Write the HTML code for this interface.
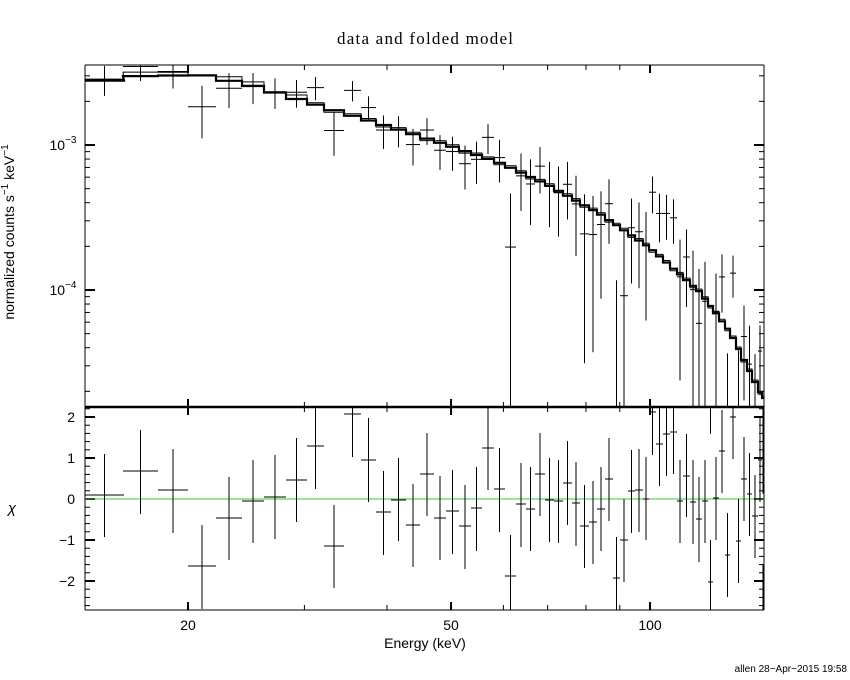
<!DOCTYPE html>
<html><head><meta charset="utf-8"><style>
html,body{margin:0;padding:0;background:#fff;}
svg{display:block;}
text{font-family:"Liberation Sans",sans-serif;fill:#000;}
</style></head><body>
<svg id="s" width="850" height="680" viewBox="0 0 850 680" xmlns="http://www.w3.org/2000/svg">
<text x="425" y="44" text-anchor="middle" font-size="17" textLength="176" style="font-family:'Liberation Serif',serif">data and folded model</text>
<text x="0" y="0" font-size="14" text-anchor="middle" transform="translate(14,232) rotate(-90)">normalized counts s<tspan dy="-6" font-size="10">−1</tspan><tspan dy="6"> keV</tspan><tspan dy="-6" font-size="10">−1</tspan></text>
<text x="12" y="513" font-size="15" text-anchor="middle" font-style="italic">χ</text>
<text x="425" y="648" font-size="14" text-anchor="middle">Energy (keV)</text>
<text x="188" y="630" font-size="14" text-anchor="middle">20</text>
<text x="451" y="630" font-size="14" text-anchor="middle">50</text>
<text x="650" y="630" font-size="14" text-anchor="middle">100</text>
<text x="63" y="150" font-size="14" text-anchor="middle">10<tspan dy="-7" font-size="10">−3</tspan></text>
<text x="63" y="295" font-size="14" text-anchor="middle">10<tspan dy="-7" font-size="10">−4</tspan></text>
<text x="75" y="422" font-size="14" text-anchor="end">2</text>
<text x="75" y="463" font-size="14" text-anchor="end">1</text>
<text x="75" y="504" font-size="14" text-anchor="end">0</text>
<text x="75" y="545" font-size="14" text-anchor="end">−1</text>
<text x="75" y="586" font-size="14" text-anchor="end">−2</text>
<text x="847" y="672" font-size="10" text-anchor="end">allen 28−Apr−2015 19:58</text>
<g id="g" fill="none" stroke="#000"></g>
</svg>
<script>
var g=document.getElementById('g'),o='';
function L(x1,y1,x2,y2,w,c){o+='<line x1="'+x1+'" y1="'+y1+'" x2="'+x2+'" y2="'+y2+'" stroke-width="'+(w||1)+'"'+(c?' stroke="'+c+'"':'')+'/>';}
var X0=85,X1=764,T=65,M=407,B=610;
function xe(E){return 188+(Math.log10(E)-Math.log10(20))*661;}
L(X0,T,X1,T);L(X0,T,X0,B);L(X1,T,X1,B);L(X0,B,X1,B);L(X0,M,X1,M,2.5);
var ts=[20,30,40,50,60,70,80,90,100];
ts.forEach(function(E){var x=xe(E),maj=(E==20||E==50||E==100),l=maj?8:5;
L(x,T,x,T+l,maj?2:1);L(x,M,x,M-l,maj?2:1);L(x,M,x,M+l,maj?2:1);L(x,B,x,B-l,maj?2:1);});
function yl(v){return 145-(Math.log10(v)+3)*145;}
for(var d=-5;d<=-3;d++)for(var k=1;k<10;k++){var y=yl(k*Math.pow(10,d));if(y<T||y>M)continue;var l=k==1?10:5;L(X0,y,X0+l,y,k==1?2:1);L(X1,y,X1-l,y,k==1?2:1);}
for(var i=-13;i<=11;i++){var v=i*0.2,y=499-v*41;if(y<M||y>B)continue;var maj=(i%5==0),l=maj?10:5;L(X0,y,X0+l,y,maj?2:1);L(X1,y,X1-l,y,maj?2:1);}
L(X0,499,X1,499,1,'#33cc33');
var D=[[85,124,495,454,537],[123,158,471,430,514],[158,188,490,449,533],[188,216,566,525,609],[216,242,518,477,560],[242,264,501,460,543],[264,286,497,455,539],[286,307,480,438,522],[307,324,446,408,489],[324,344,546,505,588],[344,361,414,408,457],[361,376,460,418,502],[376,391,512,471,555],[391,406,500,458,541],[406,420,525,484,567],[420,434,474,433,516],[434,446,518,476,560],[446,459,511,470,554],[459,471,526,485,569],[471,482,508,467,551],[482,494,448,408,490],[494,505,489,448,532],[505,516,576,535,610],[516,526,504,463,547],[526,535,509,467,551],[535,545,474,433,516],[545,554,500,458,542],[554,563,501,460,543],[563,572,483,441,525],[572,580,503,462,546],[580,589,526,485,568],[589,597,522,481,564],[597,605,509,467,551],[605,613,479,438,521],[613,620,578,537,610],[620,628,540,499,582],[628,635,491,450,533],[635,643,490,449,532],[643,649,499,457,540],[649,656,412,408,455],[656,663,444,408,486],[663,670,434,408,476],[670,677,432,408,474],[677,683,501,460,543],[683,690,476,434,517],[690,696,502,460,544],[696,702,519,477,562],[702,708,501,460,543],[708,713,582,540,610],[713,719,498,457,540],[719,725,451,410,493],[725,730,555,513,597],[730,736,417,408,459],[736,741,541,499,583],[741,747,479,437,521],[747,752,494,453,536],[752,758,516,475,558],[758,762,460,418,502],[762,764,573,564,610]];
var MP=[[85,83],[141,76],[200,75],[250,85],[300,100],[350,115],[400,130],[450,146],[500,163],[550,186],[600,214],[650,248],[700,292],[730,332],[764,400]];
function mp(x){for(var i=1;i<MP.length;i++)if(x<=MP[i][0]){var a=MP[i-1],b=MP[i],t=(x-a[0])/(b[0]-a[0]);return a[1]+t*(b[1]-a[1]);}return 400;}
function tolin(y){return Math.pow(10,(145-y)/145-3);}
var thick='',thin='';
D.forEach(function(b,i){var c=(b[0]+b[1])/2;
 L(b[0],b[2],b[1],b[2]);L(c,Math.max(M,b[3]),c,Math.min(B,b[4]));
 var my=mp(c),m=tolin(my),chi=(499-b[2])/41,rel=c<450?0.24:0.24+(c-450)/300*0.7,s=rel*m,dv=m+chi*s;
 var dy=dv>0?yl(dv):B+10,yt=yl(dv+s),yb=(dv-s)>0?yl(dv-s):M;
 yb=Math.min(yb,M);dy=Math.min(dy,M);
 if(dy<M)L(b[0],dy,b[1],dy);L(c,Math.max(T,yt),c,yb);
 var t2=my+(i%3==0?2:-2)+(c<300?-2:0);
 thick+=(i?'L':'M')+b[0]+' '+my.toFixed(1)+'L'+b[1]+' '+my.toFixed(1);
 thin+=(i?'L':'M')+b[0]+' '+t2.toFixed(1)+'L'+b[1]+' '+t2.toFixed(1);
});
o+='<path d="'+thick+'" stroke-width="2.2"/>';
o+='<path d="'+thin+'" stroke-width="1"/>';
g.innerHTML=o;
</script>
</body></html>
